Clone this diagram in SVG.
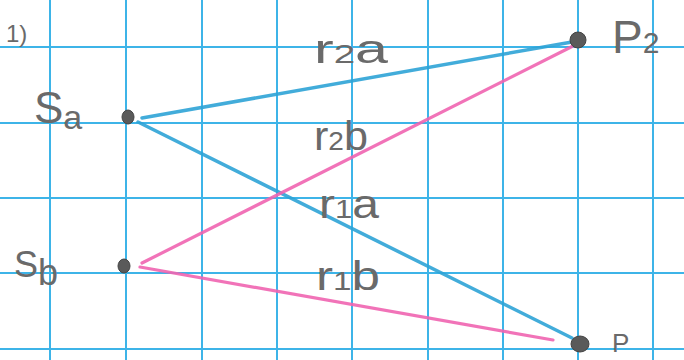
<svg xmlns="http://www.w3.org/2000/svg" width="684" height="360" viewBox="0 0 684 360">
<style>
.grid line{stroke:#3db4e8;stroke-width:2}
.blue{stroke:#2ea3d6;stroke-width:3.5;stroke-linecap:round;fill:none;opacity:.9}
.pink{stroke:#f064b0;stroke-width:3.2;stroke-linecap:round;fill:none;opacity:.9}
.dot{fill:#5a5a5a;stroke:#444;stroke-width:1}
text{font-family:"Liberation Sans","DejaVu Sans",sans-serif;fill:#6a6a6a}
.lbl{font-size:40px}
.sub{font-size:26px}
</style>
<rect width="684" height="360" fill="#ffffff"/>
<g class="grid">
<line x1="50" y1="0" x2="50" y2="360"/>
<line x1="126" y1="0" x2="126" y2="360"/>
<line x1="202" y1="0" x2="202" y2="360"/>
<line x1="277" y1="0" x2="277" y2="360"/>
<line x1="352" y1="0" x2="352" y2="360"/>
<line x1="428" y1="0" x2="428" y2="360"/>
<line x1="503" y1="0" x2="503" y2="360"/>
<line x1="578" y1="0" x2="578" y2="360"/>
<line x1="653" y1="0" x2="653" y2="360"/>
<line x1="0" y1="47" x2="684" y2="47"/>
<line x1="0" y1="123" x2="684" y2="123"/>
<line x1="0" y1="198" x2="684" y2="198"/>
<line x1="0" y1="273" x2="684" y2="273"/>
<line x1="0" y1="349" x2="684" y2="349"/>
</g>
<g id="connectors">
<path class="blue" d="M142 118 L572 42"/>
<path class="blue" d="M138 122 L572 338"/>
<path class="pink" d="M142 263 L575 45"/>
<path class="pink" d="M140 267 L553 340"/>
</g>
<g id="Sa"><ellipse class="dot" cx="128" cy="117" rx="6" ry="7"/><text x="34" y="123" font-size="44">S<tspan font-size="34" dy="6">a</tspan></text></g>
<g id="Sb"><ellipse class="dot" cx="124" cy="266" rx="6" ry="7"/><text x="14" y="277" font-size="36">S<tspan font-size="36" dy="8">b</tspan></text></g>
<g id="P2"><ellipse class="dot" cx="578" cy="40" rx="8" ry="8"/><text x="612" y="53" font-size="46">P<tspan font-size="30">2</tspan></text></g>
<g id="P1"><ellipse class="dot" cx="580" cy="344" rx="9" ry="8"/><text x="612" y="352" font-size="26">P</text></g>
<g id="labels">
<text class="lbl" x="314" y="63" textLength="74" lengthAdjust="spacingAndGlyphs">r<tspan class="sub">2</tspan>a</text>
<text class="lbl" x="314" y="150" textLength="54" lengthAdjust="spacingAndGlyphs">r<tspan class="sub">2</tspan>b</text>
<text class="lbl" x="319" y="218" textLength="60" lengthAdjust="spacingAndGlyphs">r<tspan class="sub">1</tspan>a</text>
<text class="lbl" x="316" y="290" textLength="64" lengthAdjust="spacingAndGlyphs">r<tspan class="sub">1</tspan>b</text>
<text x="6" y="42" font-size="24">1)</text>
</g>
</svg>
